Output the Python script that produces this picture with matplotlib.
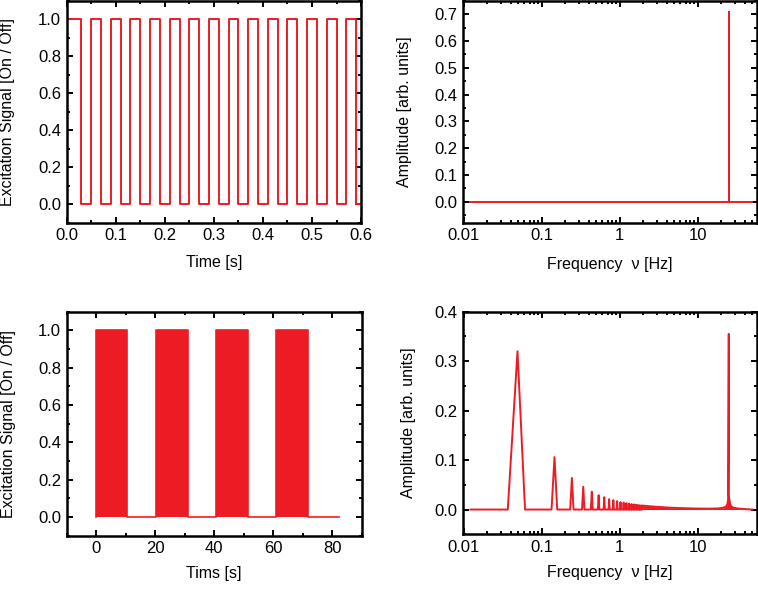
import matplotlib
matplotlib.use('Agg')
import matplotlib.pyplot as plt
from matplotlib.ticker import MultipleLocator, LogLocator, FixedFormatter, FixedLocator, NullFormatter

plt.rcParams['font.family'] = ['Liberation Sans', 'DejaVu Sans']

RED = '#ED1C24'

# --- top left: 25 Hz on/off excitation, first 0.6 s
rise_t = [0.0, 0.05, 0.09, 0.13, 0.17, 0.21, 0.25, 0.29, 0.33, 0.37, 0.41, 0.45, 0.49, 0.53, 0.57]
fall_t = [0.03, 0.07, 0.11, 0.15, 0.19, 0.23, 0.27, 0.31, 0.35, 0.39, 0.43, 0.47, 0.51, 0.55, 0.59]
t_end_short = 0.6

# --- top right: spectrum of the plain pulse train
f_min = 0.0122
f_max = 50.0
spike1_f = 25.0
spike1_a = 0.707

# --- bottom left: gated pulse train (blocks of 25 Hz pulses)
gate_on = [0.0, 20.3, 40.7, 61.1]
gate_off = [10.6, 31.0, 51.4, 71.7]
t_end_long = 82.3

# --- bottom right: spectrum of the gated train
harm_f = [0.049, 0.146, 0.244, 0.341, 0.439, 0.537, 0.634, 0.732, 0.829, 0.927,
          1.024, 1.122, 1.220, 1.317, 1.415, 1.512, 1.610, 1.707, 1.805, 1.902]
harm_a = [0.320, 0.106, 0.064, 0.046, 0.036, 0.029, 0.025, 0.021, 0.019, 0.017,
          0.015, 0.014, 0.013, 0.012, 0.011, 0.0105, 0.0098, 0.0092, 0.0087, 0.0082]
bin_w = 0.0122
env_f = [1.95, 2.5, 3.0, 4.0, 5.0, 7.0, 10.0, 14.0, 18.0, 21.0, 23.0, 24.0, 24.5,
         25.0, 25.5, 26.0, 27.0, 29.0, 33.0, 40.0, 50.0]
env_a = [0.0080, 0.0065, 0.0055, 0.0042, 0.0034, 0.0026, 0.0020, 0.0018, 0.0022, 0.0035,
         0.0060, 0.011, 0.020, 0.030, 0.020, 0.011, 0.0060, 0.0035, 0.0020, 0.0010, 0.0]
spike2_f = 25.0
spike2_a = 0.355


def style(ax):
    for s in ax.spines.values():
        s.set_linewidth(1.8)
    ax.tick_params(which='both', direction='in', top=True, right=True, width=1.4,
                   labelsize=12, pad=4)
    ax.tick_params(which='major', length=4.5)
    ax.tick_params(which='minor', length=2.5)


def pulse_xy(ons, offs, end):
    xs, ys = [], []
    for a, b in zip(ons, offs):
        xs += [a, a, b, b]
        ys += [0, 1, 1, 0]
    xs.append(end)
    ys.append(0)
    return xs, ys


fig = plt.figure(figsize=(7.58, 5.89), dpi=100)
ax1 = fig.add_axes([0.088, 0.622, 0.3883, 0.3764])
ax2 = fig.add_axes([0.6112, 0.622, 0.3871, 0.3764])
ax3 = fig.add_axes([0.088, 0.0905, 0.389, 0.3803])
ax4 = fig.add_axes([0.6112, 0.0929, 0.3871, 0.378])

# top left
x, y = pulse_xy(rise_t, fall_t, t_end_short)
ax1.plot(x, y, color=RED, lw=1.4)
ax1.set_xlim(0, 0.6)
ax1.set_ylim(-0.1, 1.1)
ax1.xaxis.set_major_locator(MultipleLocator(0.1))
ax1.xaxis.set_minor_locator(MultipleLocator(0.05))
ax1.yaxis.set_major_locator(MultipleLocator(0.2))
ax1.yaxis.set_minor_locator(MultipleLocator(0.1))
ax1.xaxis.set_major_formatter(matplotlib.ticker.FormatStrFormatter('%.1f'))
ax1.yaxis.set_major_formatter(matplotlib.ticker.FormatStrFormatter('%.1f'))
ax1.set_xlabel('Time [s]', fontsize=11.5)
ax1.set_ylabel('Excitation Signal [On / Off]', fontsize=11.5)
ax1.xaxis.set_label_coords(0.5, -0.18)
ax1.yaxis.set_label_coords(-0.2, 0.5)

# top right
ax2.plot([f_min, spike1_f, spike1_f, spike1_f, f_max], [0, 0, spike1_a, 0, 0], color=RED, lw=1.4)
ax2.set_ylabel('Amplitude [arb. units]', fontsize=11.5)
ax2.set_xlabel('Frequency  ν [Hz]', fontsize=11.5)
ax2.xaxis.set_label_coords(0.5, -0.19)
ax2.yaxis.set_label_coords(-0.199, 0.5)
ax2.set_ylim(-0.078, 0.75)
ax2.yaxis.set_major_locator(MultipleLocator(0.1))
ax2.yaxis.set_minor_locator(MultipleLocator(0.05))
ax2.yaxis.set_major_formatter(matplotlib.ticker.FormatStrFormatter('%.1f'))

# bottom left
x, y = pulse_xy(gate_on, gate_off, t_end_long)
ax3.fill_between(x, 0, y, color=RED, lw=0)
ax3.plot(x, y, color=RED, lw=1.2)
ax3.set_xlim(-10, 90)
ax3.set_ylim(-0.1, 1.1)
ax3.xaxis.set_major_locator(MultipleLocator(20))
ax3.xaxis.set_minor_locator(MultipleLocator(10))
ax3.yaxis.set_major_locator(MultipleLocator(0.2))
ax3.yaxis.set_minor_locator(MultipleLocator(0.1))
ax3.yaxis.set_major_formatter(matplotlib.ticker.FormatStrFormatter('%.1f'))
ax3.set_xlabel('Tims [s]', fontsize=11.5)
ax3.set_ylabel('Excitation Signal [On / Off]', fontsize=11.5)
ax3.xaxis.set_label_coords(0.5, -0.168)
ax3.yaxis.set_label_coords(-0.196, 0.5)

# bottom right
sx, sy = [f_min], [0.0]
for f, a in zip(harm_f, harm_a):
    sx += [f - bin_w, f, f + bin_w]
    sy += [0.0, a, 0.0]
sx += env_f[:13] + [spike2_f] + env_f[13:]
sy += env_a[:13] + [spike2_a] + env_a[13:]
ax4.fill_between(env_f, 0, env_a, color=RED, lw=0)
ax4.plot(sx, sy, color=RED, lw=1.4)
ax4.set_ylim(-0.05, 0.4)
ax4.yaxis.set_major_locator(MultipleLocator(0.1))
ax4.yaxis.set_minor_locator(MultipleLocator(0.05))
ax4.yaxis.set_major_formatter(matplotlib.ticker.FormatStrFormatter('%.1f'))
ax4.set_ylabel('Amplitude [arb. units]', fontsize=11.5)
ax4.set_xlabel('Frequency  ν [Hz]', fontsize=11.5)
ax4.xaxis.set_label_coords(0.5, -0.172)
ax4.yaxis.set_label_coords(-0.188, 0.5)

for ax in (ax2, ax4):
    ax.set_xscale('log')
    ax.set_xlim(0.0099, 57)
    ax.xaxis.set_major_locator(FixedLocator([0.01, 0.1, 1, 10]))
    ax.xaxis.set_major_formatter(FixedFormatter(['0.01', '0.1', '1', '10']))
    ax.xaxis.set_minor_locator(LogLocator(base=10, subs=range(2, 10)))
    ax.xaxis.set_minor_formatter(NullFormatter())

for ax in (ax1, ax2, ax3, ax4):
    style(ax)
    ax.xaxis.label.set_va('center')
    ax.yaxis.label.set_va('center')

fig.savefig('out.png', dpi=100)
